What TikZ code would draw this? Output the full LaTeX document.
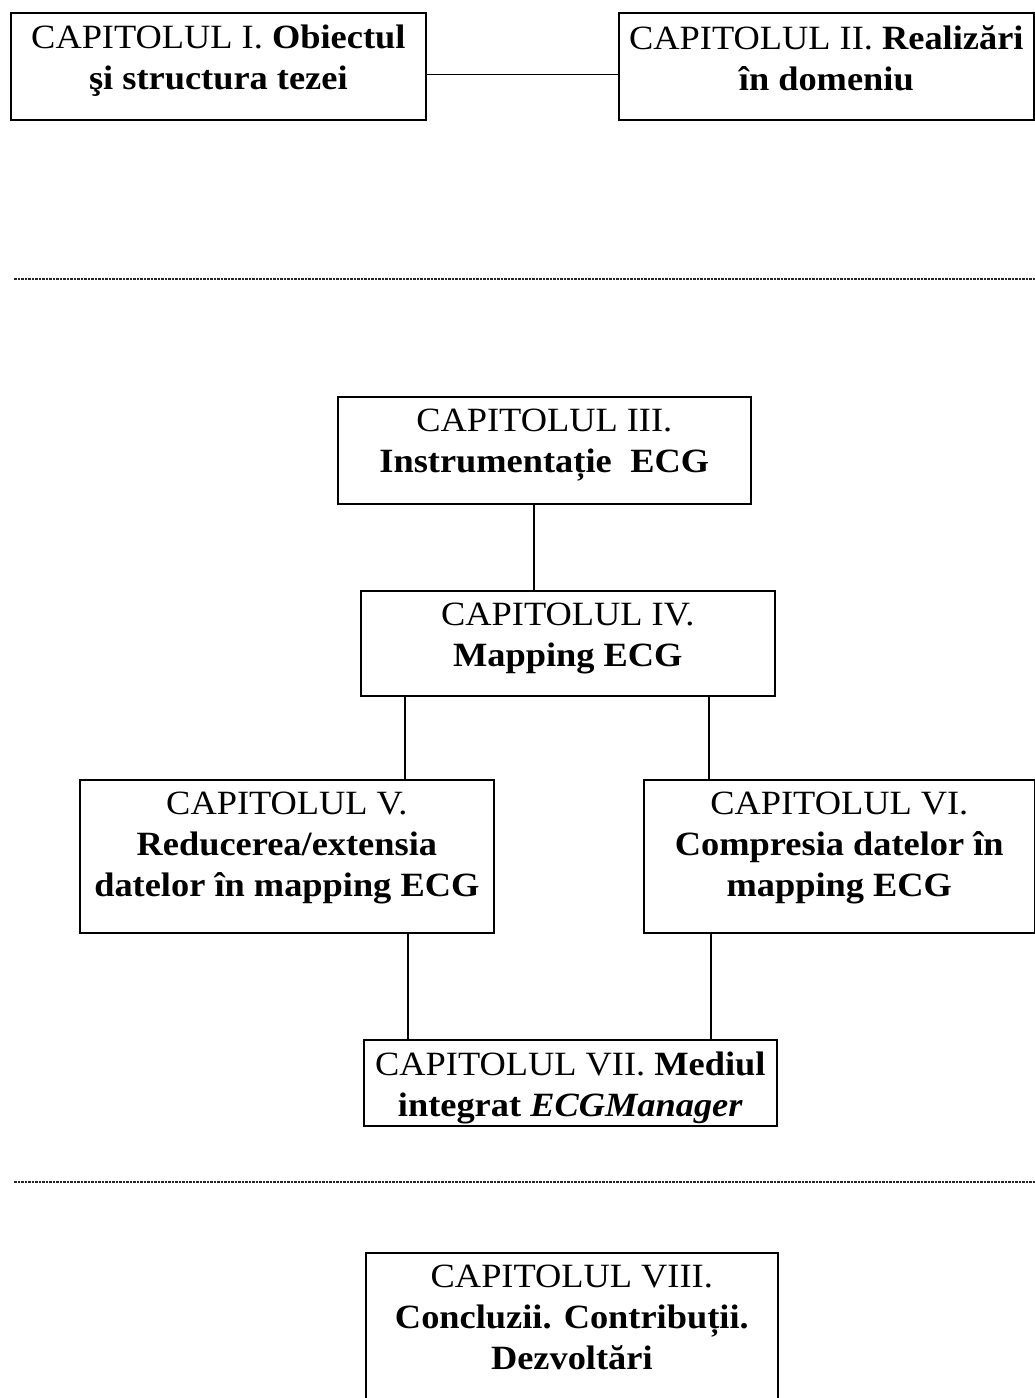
\documentclass[tikz,border=0pt]{standalone}
\usepackage{fontspec}
\setmainfont{Liberation Serif}[FakeStretch=1.07]
\begin{document}
\begin{tikzpicture}[x=1pt,y=-1pt,
  chapbox/.style={draw, line width=1.7pt, inner sep=0pt, anchor=north west},
  chaptext/.style={anchor=north, align=center, inner sep=0pt,
                   font=\fontsize{34}{41}\selectfont},
  link/.style={line width=1.7pt},
  divider/.style={line width=1.3pt, black!85, dash pattern=on 2.5pt off 1pt}]
\useasboundingbox (0,0) rectangle (1035,1398);
\clip (0,0) rectangle (1035,1398);
\fill[white] (0,0) rectangle (1035,1398);

% --- first part: chapters I and II
\node[chapbox, minimum width=415pt, minimum height=107pt] (b1) at (10,12) {};
\node[chaptext] (t1) at ([yshift=-13pt]b1.north)
  {CAPITOLUL I. \textbf{Obiectul}\\ \textbf{şi structura tezei}};
\node[chapbox, minimum width=415pt, minimum height=107pt] (b2) at (618,12) {};
\node[chaptext] (t2) at ([yshift=-13pt]b2.north)
  {CAPITOLUL II. \textbf{Realizări}\\ \textbf{în domeniu}};
\draw[link] ([yshift=-8pt]b1.east) -- ([yshift=-8pt]b2.west);

\coordinate (d1a) at (14,279);
\coordinate (d1b) at (1035,279);
\draw[divider] (d1a) -- (d1b);

% --- second part: chapters III to VII
\node[chapbox, minimum width=413pt, minimum height=107pt] (b3) at (337,396) {};
\node[chaptext] (t3) at ([yshift=-13pt]b3.north)
  {CAPITOLUL III.\\ \textbf{Instrumentație\hspace{0.55em}ECG}};

\node[chapbox, minimum width=414pt, minimum height=105pt] (b4) at (360,590) {};
\node[chaptext] (t4) at ([yshift=-13pt]b4.north)
  {CAPITOLUL IV.\\ \textbf{Mapping ECG}};
\draw[link] ([xshift=-10.5pt]b3.south) -- ([xshift=-10.5pt]b3.south |- b4.north);

\node[chapbox, minimum width=414pt, minimum height=153pt] (b5) at (79,779) {};
\node[chaptext] (t5) at ([yshift=-13pt]b5.north)
  {CAPITOLUL V.\\ \textbf{Reducerea/extensia}\\ \textbf{datelor în mapping ECG}};

\node[chapbox, minimum width=391pt, minimum height=153pt] (b6) at (643,779) {};
\node[chaptext] (t6) at ([yshift=-13pt]b6.north)
  {CAPITOLUL VI.\\ \textbf{Compresia datelor în}\\ \textbf{mapping ECG}};

\draw[link] ([xshift=-163pt]b4.south) -- ([xshift=-163pt]b4.south |- b5.north);
\draw[link] ([xshift=141pt]b4.south) -- ([xshift=141pt]b4.south |- b6.north);

\node[chapbox, minimum width=413pt, minimum height=86pt] (b7) at (363,1039) {};
\node[chaptext] (t7) at ([yshift=-13pt]b7.north)
  {CAPITOLUL VII. \textbf{Mediul}\\ \textbf{integrat \textit{ECGManager}}};

\draw[link] ([xshift=121pt]b5.south) -- ([xshift=121pt]b5.south |- b7.north);
\draw[link] ([xshift=-128.5pt]b6.south) -- ([xshift=-128.5pt]b6.south |- b7.north);

\coordinate (d2a) at (14,1182);
\coordinate (d2b) at (1035,1182);
\draw[divider] (d2a) -- (d2b);

% --- third part: chapter VIII
\node[chapbox, minimum width=412pt, minimum height=160pt] (b8) at (365,1252) {};
\node[chaptext] (t8) at ([yshift=-13pt]b8.north)
  {CAPITOLUL VIII.\\ \textbf{Concluzii. Contribuții.}\\ \textbf{Dezvoltări}};
\end{tikzpicture}
\end{document}
